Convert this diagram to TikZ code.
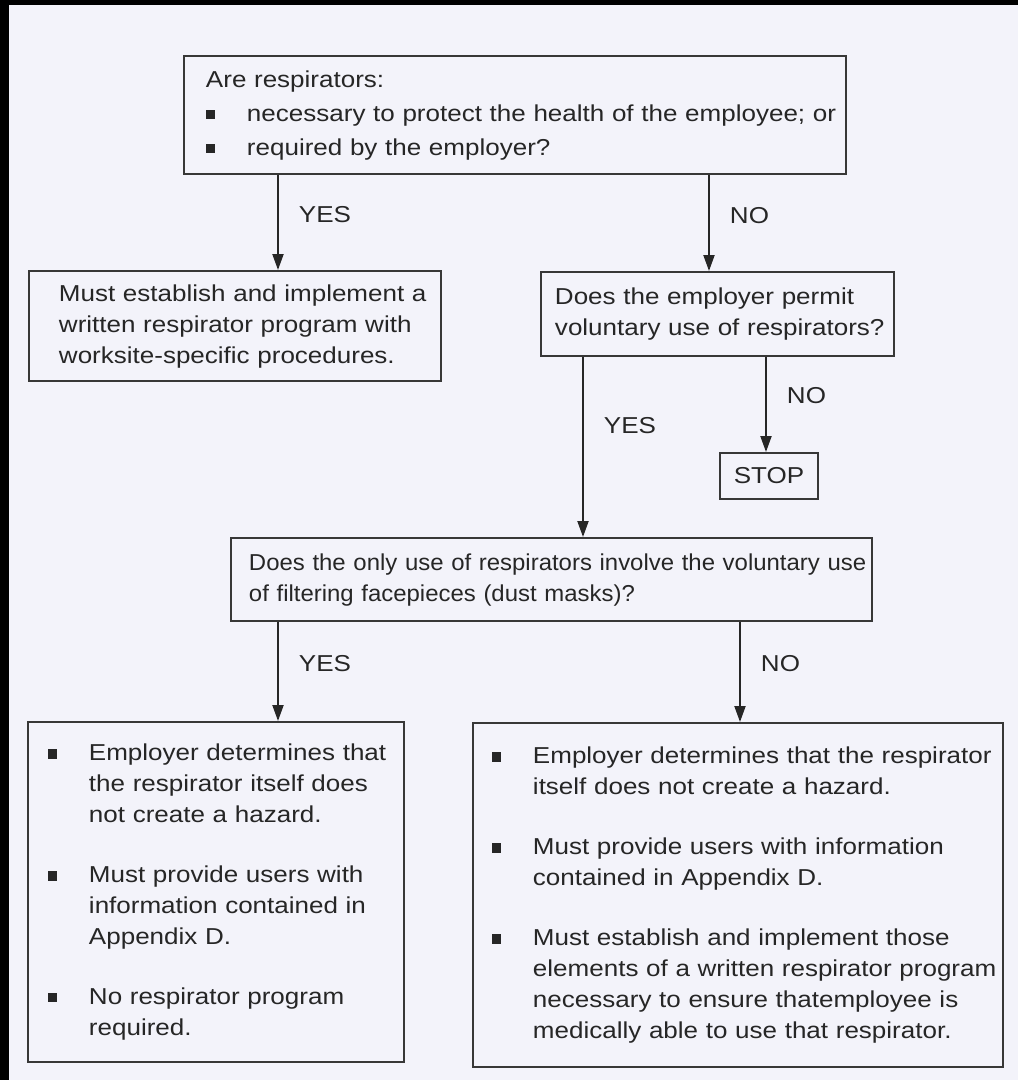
\documentclass[tikz,border=0pt]{standalone}
\usepackage{fontspec}
\setmainfont[FakeStretch=1.13]{Liberation Sans}
\newfontfamily\narrowface[FakeStretch=1.04]{Liberation Sans}
\usepackage{tikz}
\usetikzlibrary{arrows.meta}
\definecolor{paper}{RGB}{243,243,250}
\definecolor{ink}{RGB}{38,38,38}
\definecolor{rim}{RGB}{55,55,55}
\newcommand{\sqbul}{\raisebox{0.04cm}{\rule{0.19cm}{0.19cm}}}
\newcommand{\bl}{\makebox[0.82cm][l]{\sqbul}}
\tikzset{
  box/.style={draw=rim, line width=0.04cm, fill=paper, align=left, anchor=north west, inner ysep=0pt, text=ink},
  stopbox/.style={draw=rim, line width=0.04cm, fill=paper, inner sep=0pt, text=ink},
  arr/.style={draw=ink, line width=0.04cm, -{Triangle[length=0.32cm, width=0.22cm]}},
  lbl/.style={anchor=west, inner sep=0pt, xshift=0.4cm, text=ink}
}
\begin{document}
\begin{tikzpicture}[x=0.02cm, y=-0.02cm, font=\fontsize{13.1pt}{17.6pt}\selectfont]
% page and frame
\fill[paper] (0,0) rectangle (1018,1080);
\useasboundingbox (0,0) rectangle (1018,1080);
\fill[black] (0,0) rectangle (9,1080);
\fill[black] (0,0) rectangle (1018,5);

% questions
\node[box, inner xsep=0.44cm, text width=12.36cm, minimum height=2.36cm] (qnec) at (183,55) {%
\begin{tabular}{@{}l@{}l@{}}
\multicolumn{2}{@{}l@{}}{Are respirators:}\\[0.06cm]
\bl & necessary to protect the health of the employee; or\\[0.06cm]
\bl & required by the employer?
\end{tabular}};
\node[box, inner xsep=0.6cm, text width=7.04cm, minimum height=2.2cm] (prog) at (28,270) {%
\begin{tabular}{@{}l@{}}
Must establish and implement a\\
written respirator program with\\
worksite-specific procedures.
\end{tabular}};
\node[box, inner xsep=0.28cm, text width=6.5cm, minimum height=1.68cm] (vol) at (540,271) {%
\begin{tabular}{@{}l@{}}
Does the employer permit\\
voluntary use of respirators?
\end{tabular}};
\node[stopbox, minimum width=1.96cm, minimum height=0.92cm] (stp) at (769,476) {STOP};
\node[box, inner xsep=0.36cm, text width=12.1cm, minimum height=1.66cm] (mask) at (230,537) {%
\narrowface\begin{tabular}{@{}l@{}}
Does the only use of respirators involve the voluntary use\\
of filtering facepieces (dust masks)?
\end{tabular}};

% outcomes
\node[box, inner xsep=0.4cm, text width=6.72cm, minimum height=6.8cm] (maskyes) at (27,721) {%
\begin{tabular}{@{}l@{}l@{}}
\bl & Employer determines that\\
    & the respirator itself does\\
    & not create a hazard.\\[0.58cm]
\bl & Must provide users with\\
    & information contained in\\
    & Appendix D.\\[0.58cm]
\bl & No respirator program\\
    & required.
\end{tabular}};
\node[box, inner xsep=0.38cm, text width=9.84cm, minimum height=6.88cm] (maskno) at (472,722) {%
\begin{tabular}{@{}l@{}l@{}}
\bl & Employer determines that the respirator\\
    & itself does not create a hazard.\\[0.58cm]
\bl & Must provide users with information\\
    & contained in Appendix D.\\[0.58cm]
\bl & Must establish and implement those\\
    & elements of a written respirator program\\
    & necessary to ensure thatemployee is\\
    & medically able to use that respirator.
\end{tabular}};

% arrows
\coordinate (xa) at (278,0);
\coordinate (xb) at (709,0);
\coordinate (xc) at (583,0);
\coordinate (xd) at (766,0);
\coordinate (xe) at (740,0);
\draw[arr] (qnec.south -| xa) -- node[lbl, pos=0.42] {YES} (prog.north -| xa);
\draw[arr] (qnec.south -| xb) -- node[lbl, pos=0.42] {NO} (vol.north -| xb);
\draw[arr] (vol.south -| xc) -- node[lbl, pos=0.38] {YES} (mask.north -| xc);
\draw[arr] (vol.south -| xd) -- node[lbl, pos=0.41] {NO} (stp.north -| xd);
\draw[arr] (mask.south -| xa) -- node[lbl, pos=0.42] {YES} (maskyes.north -| xa);
\draw[arr] (mask.south -| xe) -- node[lbl, pos=0.42] {NO} (maskno.north -| xe);
\end{tikzpicture}
\end{document}
